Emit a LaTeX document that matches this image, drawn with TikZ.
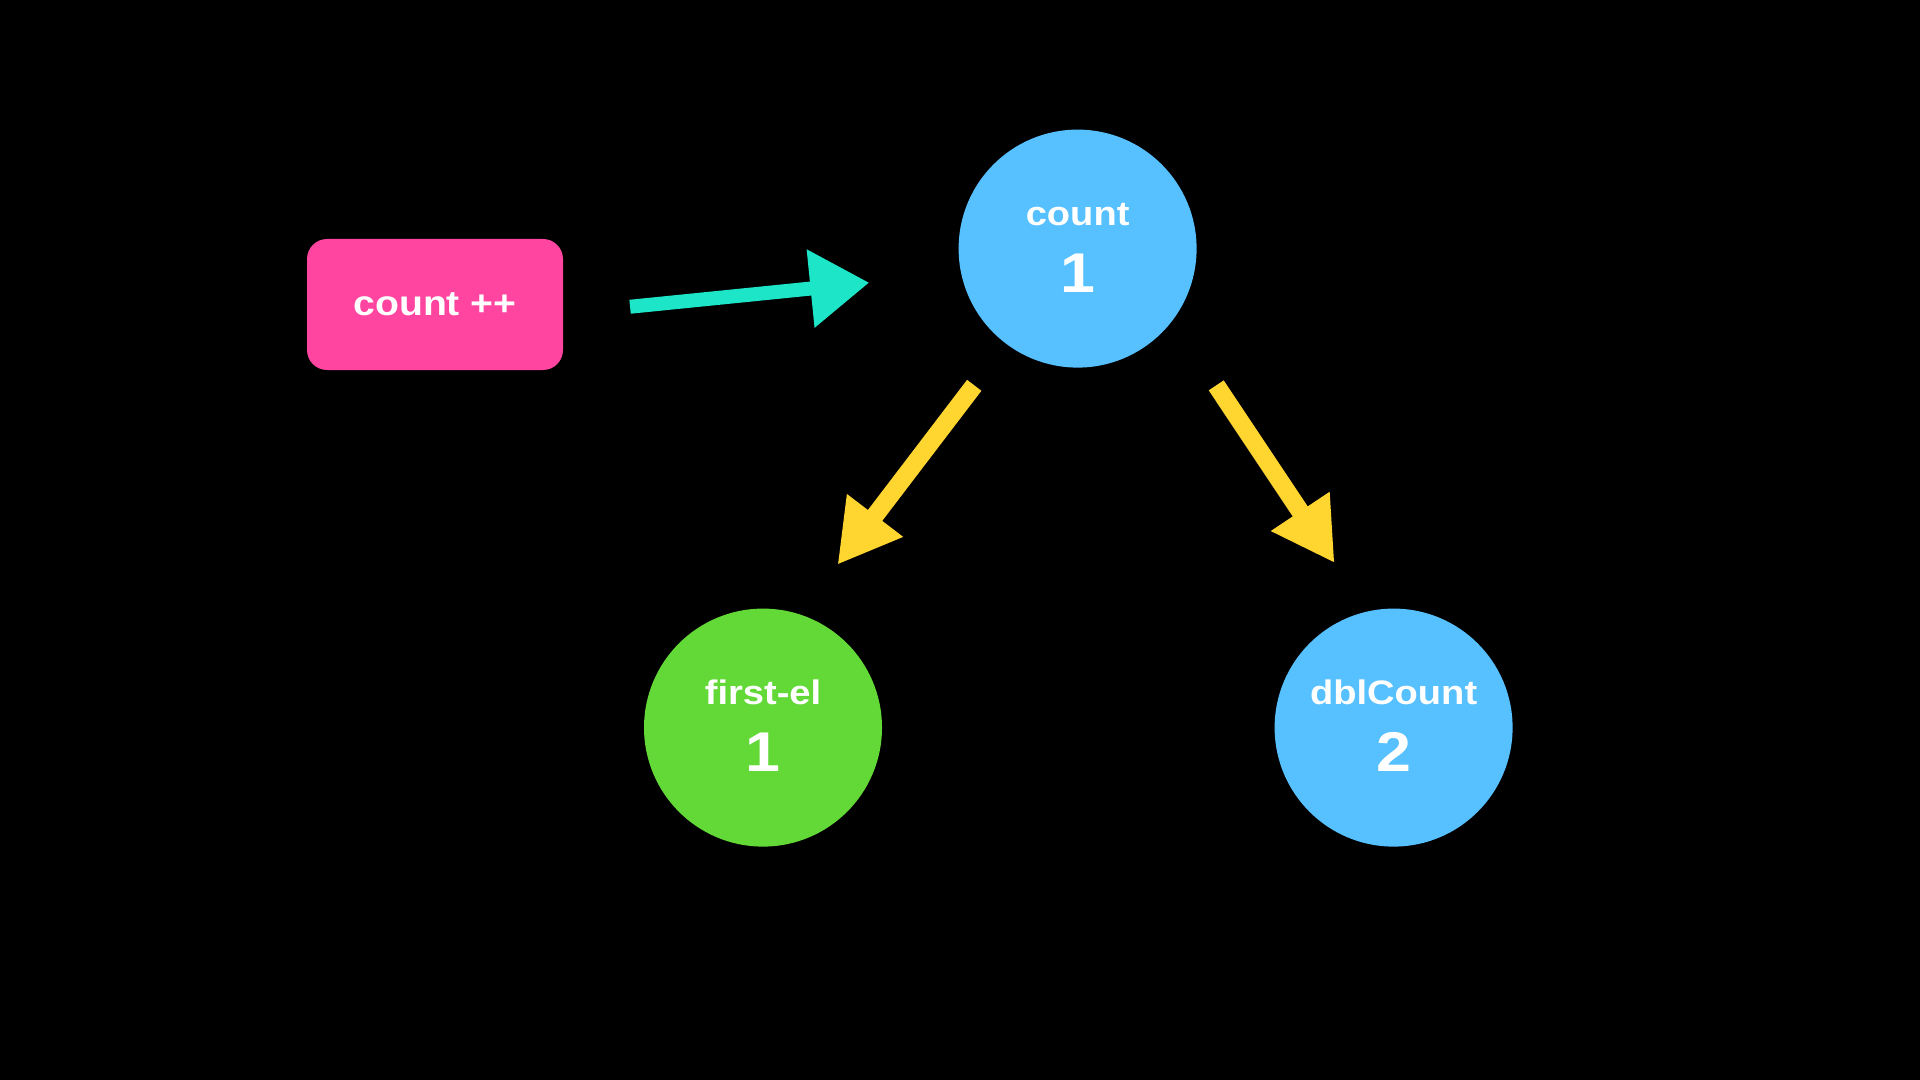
\documentclass[tikz,border=0pt]{standalone}
\usepackage{fontspec}
\setmainfont{Liberation Sans}[FakeStretch=1.12]
\usetikzlibrary{shapes,arrows.meta,positioning}
\definecolor{incrpink}{RGB}{255,69,160}
\definecolor{countblue}{RGB}{87,192,255}
\definecolor{elgreen}{RGB}{99,217,56}
\definecolor{pushcyan}{RGB}{29,230,200}
\definecolor{flowyellow}{RGB}{255,214,48}
\tikzstyle{incr} = [rectangle, rounded corners=10pt, minimum width=128pt, minimum height=65.5pt, fill=incrpink, text=white, font=\fontsize{17.5pt}{21pt}\selectfont\bfseries]
\tikzstyle{bubble} = [circle, minimum size=119pt, inner sep=0pt]
\tikzstyle{tag} = [anchor=base, inner sep=0pt, text=white, font=\fontsize{17pt}{20pt}\selectfont\bfseries]
\tikzstyle{value} = [anchor=base, inner sep=0pt, text=white, font=\fontsize{28pt}{32pt}\selectfont\bfseries]
\tikzstyle{push} = [line width=7pt, draw=pushcyan, -{Triangle[length=29.5pt,width=37.5pt]}]
\tikzstyle{flow} = [line width=9pt, draw=flowyellow, -{Triangle[length=31pt,width=33pt]}]

\begin{document}
\begin{tikzpicture}[x=0.5pt, y=-0.5pt, node distance=239.5pt]
        \fill[black] (0,0) rectangle (1920,1080);
        \useasboundingbox (0,0) rectangle (1920,1080);

        \node (incr) [incr] at (435,304.5) {count ++};
        \node (count) [bubble, fill=countblue] at (1077.6,248.6) {};
        \node (first) [bubble, below of=count, xshift=-157.3pt, fill=elgreen] {};
        \node (dbl) [bubble, below of=count, xshift=158pt, fill=countblue] {};

        \node (count-tag) [tag] at ([yshift=11.5pt]count.center) {count};
        \node (count-val) [value] at ([yshift=-22pt]count.center) {1};
        \node (first-tag) [tag] at ([yshift=11.5pt]first.center) {first-el};
        \node (first-val) [value] at ([yshift=-22pt]first.center) {1};
        \node (dbl-tag) [tag] at ([yshift=11.5pt]dbl.center) {dblCount};
        \node (dbl-val) [value] at ([yshift=-22pt]dbl.center) {2};

        \draw [push, shorten <=33.5pt, shorten >=46pt] (incr.-4) -- (count.-168);
        \draw [flow, shorten <=26pt, shorten >=31pt] (count.-127) -- (first.72);
        \draw [flow, shorten <=39pt, shorten >=29pt] (count.-37) -- (dbl.103);

    \end{tikzpicture}
\end{document}
